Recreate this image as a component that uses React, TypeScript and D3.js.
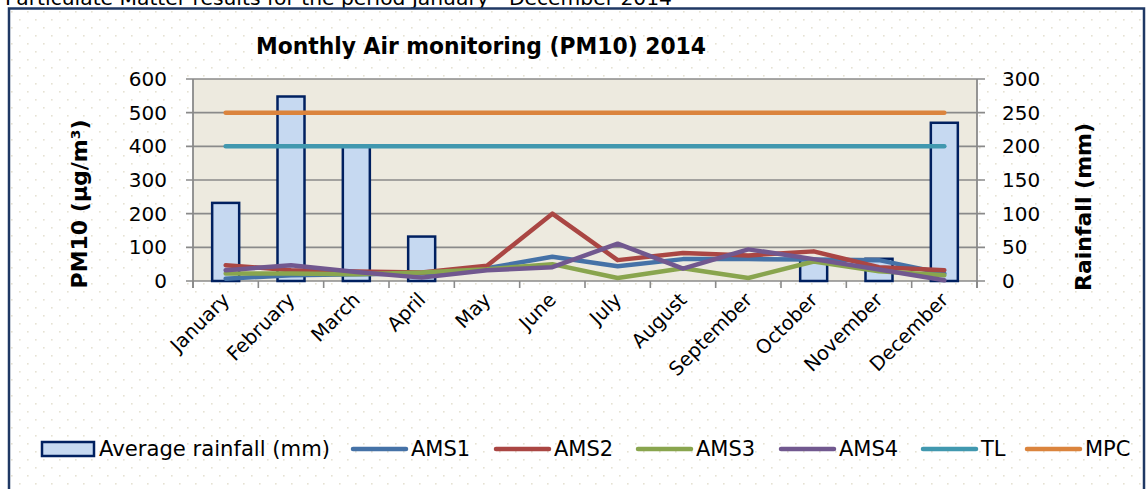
import React from "react";
import * as d3 from "d3";

const months = ["January","February","March","April","May","June","July","August","September","October","November","December"];
const rainfall = [116, 274, 200, 66, 0, 0, 0, 0, 0, 32, 33, 235];
const ams1 = [7, 17, 20, 22, 38, 72, 44, 65, 65, 64, 62, 22];
const ams2 = [47, 32, 28, 25, 45, 200, 62, 83, 76, 88, 41, 32];
const ams3 = [22, 22, 20, 25, 35, 50, 9, 38, 9, 58, 29, 17];
const ams4 = [32, 47, 27, 10, 32, 41, 111, 37, 94, 65, 34, 2];
const tl = [400, 400, 400, 400, 400, 400, 400, 400, 400, 400, 400, 400];
const mpc = [500, 500, 500, 500, 500, 500, 500, 500, 500, 500, 500, 500];
const leftTicks = [0, 100, 200, 300, 400, 500, 600];
const rightTicks = [0, 50, 100, 150, 200, 250, 300];

const lineSeries = [
  { name: "AMS1", values: ams1, color: "#4572A7" },
  { name: "AMS2", values: ams2, color: "#AA4643" },
  { name: "AMS3", values: ams3, color: "#89A54E" },
  { name: "AMS4", values: ams4, color: "#71588F" },
  { name: "TL", values: tl, color: "#4198AF" },
  { name: "MPC", values: mpc, color: "#DB843D" },
];

const legendX = [353, 496, 638, 781, 923, 1027];

const FONT = "'DejaVu Sans', sans-serif";

export default function App() {
  const W = 1146, H = 489;
  const left = 193, right = 977, top = 79, bottom = 281;
  const x = d3.scaleBand<string>().domain(months).range([left, right]).paddingInner(0).paddingOuter(0);
  const bw = x.bandwidth();
  const cx = (m: string) => (x(m) as number) + bw / 2;
  const yL = d3.scaleLinear().domain([0, 600]).range([bottom, top]);
  const yR = d3.scaleLinear().domain([0, 300]).range([bottom, top]);
  const barW = 27;
  const line = d3.line<number>().x((_, i) => cx(months[i])).y((v) => yL(v));
  const boundaries = months.map((m) => x(m) as number).concat([right]);

  return (
    <svg width={W} height={H} style={{ position: "absolute", left: 0, top: 0 }} fontFamily={FONT}>
      <defs>
        <pattern id="dots" width="16" height="16" patternUnits="userSpaceOnUse">
          <rect width="16" height="16" fill="#ffffff" />
          <rect x="3" y="3" width="1.6" height="1.6" fill="#E6E2D3" />
          <rect x="11" y="11" width="1.6" height="1.6" fill="#E6E2D3" />
        </pattern>
      </defs>
      <rect x={0} y={0} width={W} height={H} fill="#ffffff" />
      <text x={5} y={5} fontSize={20} textLength={667} lengthAdjust="spacingAndGlyphs" fill="#000">
        Particulate Matter results for the period January - December 2014
      </text>
      <rect x={9} y={8.5} width={1135} height={500} fill="url(#dots)" stroke="#1F3864" strokeWidth={2.5} />

      <text x={481} y={54} fontSize={23} fontWeight="bold" textAnchor="middle" textLength={450} lengthAdjust="spacingAndGlyphs">
        Monthly Air monitoring (PM10) 2014
      </text>

      <rect x={left} y={top} width={right - left} height={bottom - top} fill="#EDEADF" />

      {leftTicks.map((t) => (
        <line key={"g" + t} x1={left - 7} x2={right + 8} y1={yL(t)} y2={yL(t)} stroke="#8A8A8A" strokeWidth={1.6} />
      ))}
      <line x1={left} x2={left} y1={top} y2={bottom + 7} stroke="#8A8A8A" strokeWidth={1.8} />
      <line x1={right} x2={right} y1={top} y2={bottom + 7} stroke="#8A8A8A" strokeWidth={1.8} />
      {boundaries.map((b, i) => (
        <line key={"t" + i} x1={b} x2={b} y1={bottom} y2={bottom + 7} stroke="#8A8A8A" strokeWidth={1.6} />
      ))}

      {leftTicks.map((t) => (
        <text key={"l" + t} x={167} y={yL(t)} fontSize={20} textAnchor="end" dominantBaseline="central" fill="#000">{t}</text>
      ))}
      {rightTicks.map((t) => (
        <text key={"r" + t} x={1002} y={yR(t)} fontSize={20} textAnchor="start" dominantBaseline="central" fill="#000">{t}</text>
      ))}

      <text transform="translate(79,204) rotate(-90)" fontSize={22} fontWeight="bold" textAnchor="middle" dominantBaseline="central">PM10 (µg/m³)</text>
      <text transform="translate(1083,207) rotate(-90)" fontSize={22} fontWeight="bold" textAnchor="middle" dominantBaseline="central">Rainfall (mm)</text>

      {months.map((m) => (
        <text key={"m" + m} transform={`translate(${cx(m) + 5},${301}) rotate(-45)`} fontSize={19.5} textAnchor="end" fill="#000">{m}</text>
      ))}

      {rainfall.map((v, i) => v > 0 ? (
        <rect key={"b" + i} x={cx(months[i]) - barW / 2} y={yR(v)} width={barW} height={yR(0) - yR(v)} fill="#C6D9F1" stroke="#002060" strokeWidth={2.5} />
      ) : null)}

      {lineSeries.map((s) => (
        <path key={s.name} d={line(s.values) as string} fill="none" stroke={s.color} strokeWidth={4.5} strokeLinecap="round" strokeLinejoin="round" />
      ))}

      <rect x={42} y={442} width={52} height={14} fill="#C6D9F1" stroke="#002060" strokeWidth={2.5} />
      <text x={99} y={449} fontSize={21} dominantBaseline="central" textLength={231} lengthAdjust="spacingAndGlyphs">Average rainfall (mm)</text>
      {lineSeries.map((s, i) => (
        <g key={"lg" + s.name}>
          <line x1={legendX[i]} x2={legendX[i] + 53} y1={449} y2={449} stroke={s.color} strokeWidth={4.5} strokeLinecap="round" />
          <text x={legendX[i] + 58} y={449} fontSize={21} dominantBaseline="central">{s.name}</text>
        </g>
      ))}
    </svg>
  );
}
